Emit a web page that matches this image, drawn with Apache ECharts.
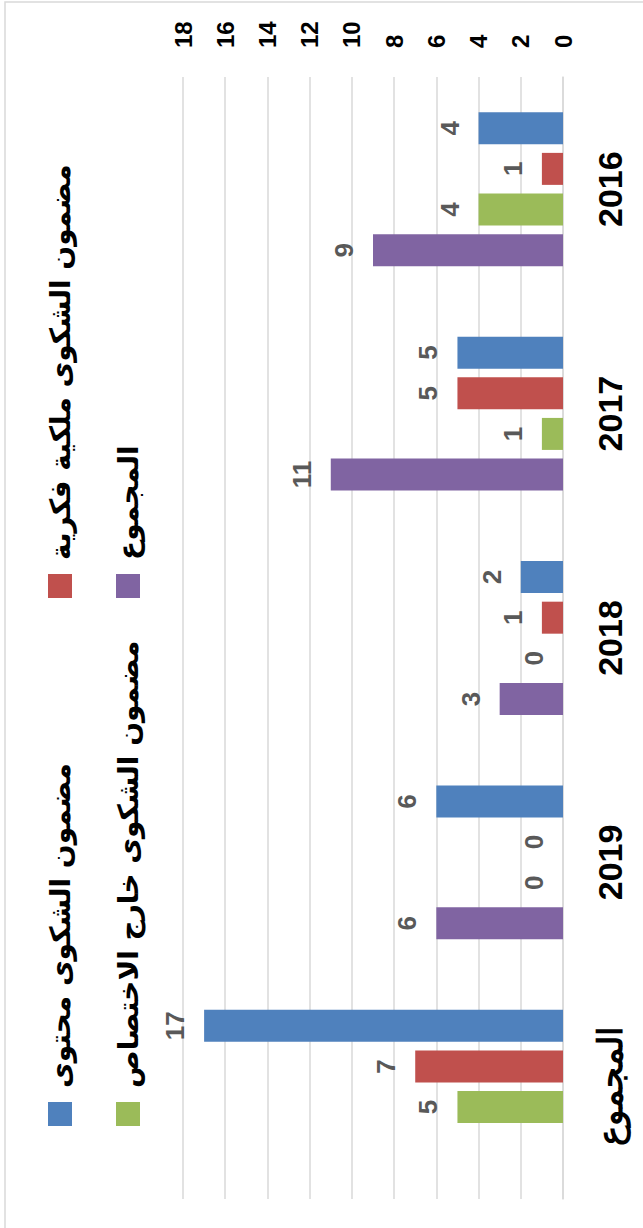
<!DOCTYPE html>
<html>
<head>
<meta charset="utf-8">
<script src="https://cdn.jsdelivr.net/npm/echarts@6/dist/echarts.min.js"></script>
<style>
    html, body {
        margin: 0;
        padding: 0;
        background: #fff;
        overflow: hidden;
    }
    /* chart is drawn upright, then turned a quarter anticlockwise */
    #chart {
        position: absolute;
        left: 0;
        top: 1228px;
        width: 1228px;
        height: 643px;
        transform-origin: 0 0;
        transform: rotate(-90deg);
    }
</style>
</head>
<body>
<div id="chart"></div>
<script>
const categories = ['2016', '2017', '2018', '2019', 'المجموع'];
const seriesNames = [
    'مضمون الشكوى محتوى',
    'مضمون الشكوى ملكية فكرية',
    'مضمون الشكوى خارج الاختصاص',
    'المجموع'
];
const contentValues = [4, 5, 2, 6, 17];
const propertyValues = [1, 5, 1, 0, 7];
const outsideValues = [4, 1, 0, 0, 5];
const totalValues = [9, 11, 3, 6, null];
const colors = ['#4F81BD', '#C0504D', '#9BBB59', '#8064A2'];
const valueTicks = [0, 2, 4, 6, 8, 10, 12, 14, 16, 18];

const mCharts = echarts.init(document.getElementById('chart'), null, { renderer: 'svg' });

const makeBar = (i, values) => ({
    name: seriesNames[i],
    type: 'bar',
    barWidth: 32,
    barGap: '27%',
    color: colors[i],
    label: {
        show: true,
        position: 'top',
        distance: 16,
        color: '#595959',
        fontSize: 26,
        fontWeight: 'bold',
        fontFamily: 'Liberation Sans'
    },
    data: values
});

// extra bottom padding lifts the arabic text onto the icon's middle
const legendText = {
    color: '#000',
    fontSize: 28,
    fontWeight: 'bold',
    lineHeight: 24,
    fontFamily: 'DejaVu Sans',
    padding: [0, 0, 20, 9]
};

const options = {
    animation: false,
    backgroundColor: '#fff',
    // outer frame, only the top and right edges are in view
    graphic: [
        {
            type: 'rect',
            shape: { x: -10, y: 5, width: 1236, height: 660 },
            style: { fill: 'none', stroke: '#d9d9d9', lineWidth: 1.5 },
            silent: true
        }
    ],
    legend: [
        {
            orient: 'vertical',
            align: 'left',
            left: 97,
            top: 33,
            itemWidth: 24,
            itemHeight: 24,
            itemGap: 24,
            icon: 'rect',
            textStyle: legendText,
            data: [seriesNames[0], seriesNames[2]]
        },
        {
            orient: 'vertical',
            align: 'left',
            left: 625,
            top: 33,
            itemWidth: 24,
            itemHeight: 24,
            itemGap: 24,
            icon: 'rect',
            textStyle: legendText,
            data: [seriesNames[1], seriesNames[3]]
        }
    ],
    grid: {
        left: 29,
        right: 77,
        top: 183,
        bottom: 80,
        containLabel: false
    },
    // categories run right to left
    xAxis: {
        type: 'category',
        inverse: true,
        data: categories,
        axisTick: { show: false },
        axisLine: { lineStyle: { color: '#d9d9d9', width: 1.5 } },
        axisLabel: {
            margin: 30,
            color: '#000',
            fontSize: 34,
            fontWeight: 'bold',
            fontFamily: 'Liberation Sans'
        }
    },
    yAxis: {
        type: 'value',
        position: 'right',
        min: valueTicks[0],
        max: valueTicks[valueTicks.length - 1],
        interval: 2,
        axisLine: { show: false },
        axisTick: { show: false },
        splitLine: { lineStyle: { color: '#d9d9d9', width: 1.5 } },
        axisLabel: {
            margin: 29,
            color: '#000',
            fontSize: 24,
            fontWeight: 'bold',
            fontFamily: 'Liberation Sans'
        }
    },
    // listed last-first so the first series sits on the right of each group
    series: [
        makeBar(3, totalValues),
        makeBar(2, outsideValues),
        makeBar(1, propertyValues),
        makeBar(0, contentValues)
    ]
};

mCharts.setOption(options);
</script>
</body>
</html>
